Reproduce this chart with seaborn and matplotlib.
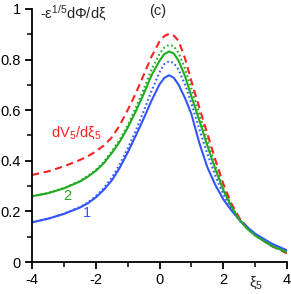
import numpy as np
import pandas as pd
import matplotlib
matplotlib.use("Agg")
import matplotlib.pyplot as plt
import seaborn as sns
from matplotlib.ticker import MultipleLocator, FuncFormatter

xi = [-4, -3.5, -3, -2.5, -2.25, -2, -1.75, -1.5, -1.25, -1, -0.75, -0.5, -0.25, 0,
      0.15, 0.3, 0.45, 0.6, 0.8, 1.0, 1.25, 1.5, 1.75, 2.0, 2.25, 2.5, 2.75, 3.0, 3.5, 4.0]

red_dash = [0.344, 0.358, 0.378, 0.403, 0.418, 0.437, 0.460, 0.492, 0.540, 0.600,
            0.665, 0.738, 0.812, 0.872, 0.893, 0.902, 0.895, 0.874, 0.805, 0.715,
            0.610, 0.508, 0.405, 0.310, 0.232, 0.175, 0.138, 0.107, 0.064, 0.034]
green_solid = [0.260, 0.272, 0.291, 0.318, 0.337, 0.360, 0.390, 0.430, 0.475, 0.530,
               0.594, 0.663, 0.738, 0.795, 0.822, 0.832, 0.824, 0.795, 0.735, 0.655,
               0.560, 0.460, 0.368, 0.285, 0.220, 0.168, 0.132, 0.105, 0.065, 0.038]
green_dot = [0.260, 0.272, 0.292, 0.320, 0.340, 0.364, 0.395, 0.437, 0.483, 0.540,
             0.608, 0.682, 0.760, 0.822, 0.848, 0.858, 0.853, 0.826, 0.765, 0.685,
             0.585, 0.480, 0.380, 0.292, 0.225, 0.170, 0.133, 0.105, 0.064, 0.037]
blue_solid = [0.157, 0.171, 0.190, 0.215, 0.232, 0.255, 0.285, 0.322, 0.372, 0.432,
              0.498, 0.566, 0.638, 0.702, 0.728, 0.738, 0.728, 0.700, 0.648, 0.585,
              0.470, 0.375, 0.305, 0.248, 0.205, 0.168, 0.138, 0.112, 0.074, 0.046]
blue_dot = [0.157, 0.171, 0.191, 0.217, 0.235, 0.260, 0.292, 0.332, 0.385, 0.448,
            0.518, 0.595, 0.676, 0.750, 0.782, 0.794, 0.786, 0.760, 0.702, 0.628,
            0.525, 0.428, 0.342, 0.268, 0.210, 0.165, 0.132, 0.106, 0.066, 0.040]

sns.set_style("ticks")
plt.rcParams['font.family'] = ['Liberation Sans', 'DejaVu Sans']
plt.rcParams['mathtext.fontset'] = 'custom'
plt.rcParams['mathtext.rm'] = 'Liberation Sans'
plt.rcParams['mathtext.it'] = 'Liberation Sans:italic'

RED = '#ff2020'
GREEN = '#22aa22'
BLUE = '#3355ff'

fig = plt.figure(figsize=(2.91, 2.94), dpi=100)
ax = fig.add_axes([32/291, 32/294, 255/291, 253/294])

lw = 1.5
sns.lineplot(x=xi, y=blue_dot, ax=ax, color=BLUE, lw=lw, linestyle=(0, (0.8, 1.3)))
sns.lineplot(x=xi, y=green_dot, ax=ax, color=GREEN, lw=lw, linestyle=(0, (0.8, 1.3)))
sns.lineplot(x=xi, y=red_dash, ax=ax, color=RED, lw=lw, linestyle=(0, (3.5, 2.2)))
sns.lineplot(x=xi, y=blue_solid, ax=ax, color=BLUE, lw=lw)
sns.lineplot(x=xi, y=green_solid, ax=ax, color=GREEN, lw=lw)

ax.set_xlim(-4, 4)
ax.set_ylim(0, 1)
ax.xaxis.set_major_locator(MultipleLocator(2))
ax.xaxis.set_minor_locator(MultipleLocator(1))
ax.yaxis.set_major_locator(MultipleLocator(0.2))
ax.yaxis.set_minor_locator(MultipleLocator(0.1))
ax.yaxis.set_major_formatter(FuncFormatter(lambda v, p: f"{v:g}"))
ax.xaxis.set_major_formatter(FuncFormatter(lambda v, p: f"{v:g}"))
for s in ['top', 'right']:
    ax.spines[s].set_visible(False)
for s in ['left', 'bottom']:
    ax.spines[s].set_linewidth(1.3)
    ax.spines[s].set_color('black')
ax.tick_params(which='major', direction='out', length=5, width=1.3, labelsize=10.5,
               colors='black', pad=3)
ax.tick_params(which='minor', direction='out', length=3.5, width=1.3)
ax.set_xlabel('')
ax.set_ylabel('')

def px(x, y):
    return (x / 291, 1 - y / 294)

fs = 10.5
fig.text(*px(40, 13), r'-$\mathregular{\varepsilon^{1/5}d\Phi/d\xi}$', fontsize=fs,
         ha='left', va='center')
fig.text(*px(158, 11), '(c)', fontsize=fs, ha='center', va='center')
fig.text(*px(76, 133), r'$\mathregular{dV_5/d\xi_5}$', fontsize=fs, color=RED,
         ha='center', va='center')
fig.text(*px(67.5, 196), '2', fontsize=fs, color=GREEN, ha='center', va='center')
fig.text(*px(87, 213), '1', fontsize=fs, color=BLUE, ha='center', va='center')
fig.text(*px(256, 283), r'$\mathregular{\xi_5}$', fontsize=fs, ha='center', va='center')

fig.savefig('out.png', dpi=100)
